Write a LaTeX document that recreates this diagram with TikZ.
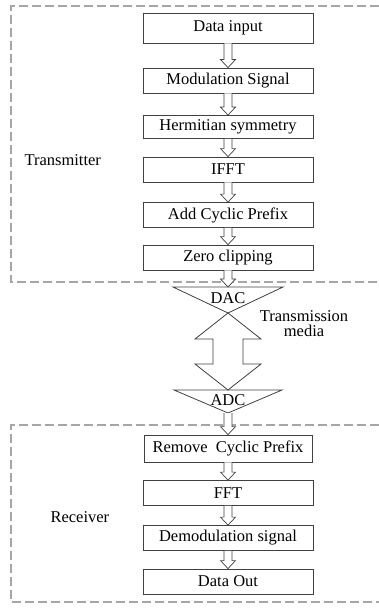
\documentclass[tikz,border=0pt]{standalone}
\usepackage{fontspec}
\setmainfont{Liberation Serif}
\usepackage{tikz}
\usetikzlibrary{calc}
\tikzset{block/.style = {draw=black!75, line width=0.8pt, fill=white,
                         minimum width=170pt, minimum height=25pt, inner sep=0pt},
         frame/.style = {draw=black!35, line width=1.2pt, dash pattern=on 9pt off 4pt},
         hollowarr/.style = {draw=black!75, line width=0.7pt, fill=white, line join=miter},
         conv/.style = {draw=black!75, line width=0.8pt, line join=miter}}
\newcommand{\hollowarrow}[2]{%
  \draw[hollowarr] ($(#1)+(-4,0)$) -- ($(#2)+(-4,-8)$) -- ($(#2)+(-7.5,-8)$) -- (#2)
                   -- ($(#2)+(7.5,-8)$) -- ($(#2)+(4,-8)$) -- ($(#1)+(4,0)$);}

\begin{document}
\begin{tikzpicture}[x=1pt, y=-1pt, every node/.style={font=\fontsize{16.5}{15}\selectfont}]
  \useasboundingbox (0,0) rectangle (379,615);
  \draw [frame] (392,6) -| (11,282) -- (392,282);
  \draw [frame] (392,425) -| (11,602) -- (392,602);

  \node [block, minimum height=30pt] (input) at (228,28) {Data input};
  \node [block] (modul) at (228,80.5) {Modulation Signal};
  \node [block, minimum height=23pt] (herm) at (228,127) {Hermitian symmetry};
  \node [block] (ifft) at (228,169.5) {IFFT};
  \node [block] (addcp) at (228,215) {Add Cyclic Prefix};
  \node [block] (zero) at (228,257.5) {Zero clipping};
  \node [anchor=west] (tx) at (21,160) {Transmitter};

  \draw [conv] (173,287) -- (283,287) -- (228,313) -- cycle;
  \coordinate (dactop) at (228,287);
  \node (dac) at (228,298) {DAC};
  \draw [conv] (228,313) -- (261,339) -- (243,339) -- (243,364) -- (261,364) -- (228,390)
               -- (195,364) -- (213,364) -- (213,339) -- (195,339) -- cycle;
  \draw [conv] (174,390) -- (282,390) -- (228,413) -- cycle;
  \coordinate (adcbot) at (228,413);
  \node (adc) at (228,400) {ADC};
  \node [align=center] (media) at (304,324) {Transmission\\media};

  \node [block, minimum width=168pt, minimum height=27pt] (remcp) at (228,448.5) {Remove\ \ Cyclic Prefix};
  \node [block] (fft) at (228,493) {FFT};
  \node [block] (demod) at (228,538) {Demodulation signal};
  \node [block] (out) at (228,581.5) {Data Out};
  \node [anchor=west] (rx) at (47,517) {Receiver};

  \hollowarrow{input.south}{modul.north}
  \hollowarrow{modul.south}{herm.north}
  \hollowarrow{herm.south}{ifft.north}
  \hollowarrow{ifft.south}{addcp.north}
  \hollowarrow{addcp.south}{zero.north}
  \hollowarrow{zero.south}{dactop}
  \hollowarrow{adcbot}{remcp.north}
  \hollowarrow{remcp.south}{fft.north}
  \hollowarrow{fft.south}{demod.north}
  \hollowarrow{demod.south}{out.north}
\end{tikzpicture}
\end{document}
